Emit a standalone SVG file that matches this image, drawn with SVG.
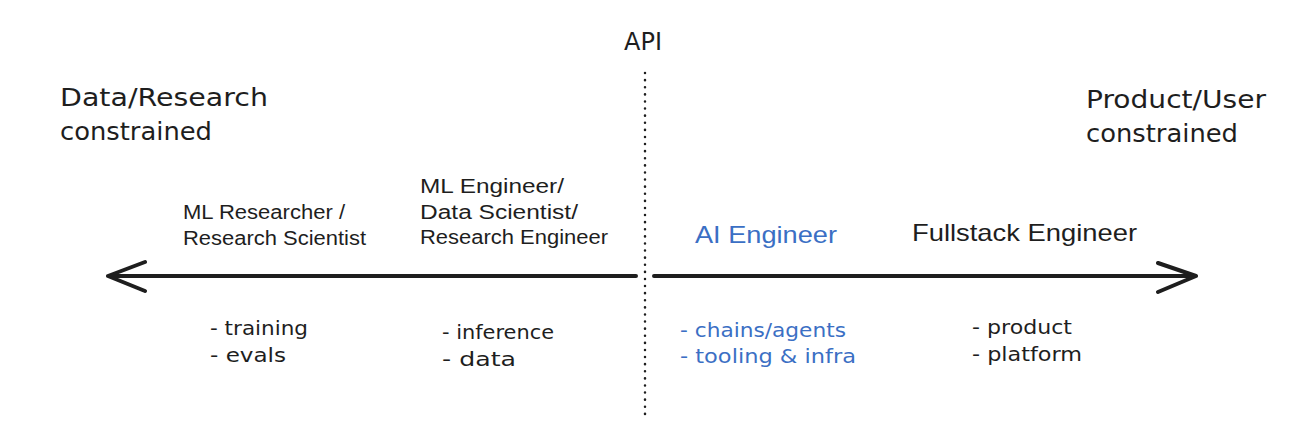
<svg xmlns="http://www.w3.org/2000/svg" width="1308" height="436" viewBox="0 0 1308 436">
<style>
.hand{font-family:"DejaVu Sans","Noto Sans",sans-serif;fill:#1e1e1e}
.big{font-size:24px}
.small{font-size:20px}
.sans{font-family:"Liberation Sans",Arial,sans-serif;fill:#1e1e1e}
.blue{fill:#3b6fc4}
.line{stroke:#1e1e1e;stroke-width:4;stroke-linecap:round;fill:none;stroke-linejoin:round}
</style>
<rect width="1308" height="436" fill="#ffffff"/>
<g id="connectors">
<line x1="645" y1="73" x2="645" y2="416" stroke="#1e1e1e" stroke-width="2.5" stroke-dasharray="0.1 7" stroke-linecap="round"/>
<path class="line" d="M636 276 L108 276 M145 262 L108 276 L145 291"/>
<path class="line" d="M654 276 L1196 276 M1158 263 L1196 276 L1158 292"/>
</g>
<g id="api"><text class="hand big" x="643" y="50" text-anchor="middle">API</text></g>
<g id="left-label">
<text class="hand big" x="60" y="106" textLength="208" lengthAdjust="spacingAndGlyphs">Data/Research</text>
<text class="hand big" x="60" y="140" textLength="152" lengthAdjust="spacingAndGlyphs">constrained</text>
</g>
<g id="right-label">
<text class="hand big" x="1086" y="108" textLength="180" lengthAdjust="spacingAndGlyphs">Product/User</text>
<text class="hand big" x="1086" y="142" textLength="152" lengthAdjust="spacingAndGlyphs">constrained</text>
</g>
<g id="ml-researcher">
<text class="sans" font-size="20" x="183" y="219" textLength="162" lengthAdjust="spacingAndGlyphs">ML Researcher /</text>
<text class="sans" font-size="20" x="183" y="245" textLength="183" lengthAdjust="spacingAndGlyphs">Research Scientist</text>
<text class="hand small" x="210" y="335" textLength="98" lengthAdjust="spacingAndGlyphs">- training</text>
<text class="hand small" x="210" y="362" textLength="76" lengthAdjust="spacingAndGlyphs">- evals</text>
</g>
<g id="ml-engineer">
<text class="sans" font-size="20" x="420" y="193" textLength="144" lengthAdjust="spacingAndGlyphs">ML Engineer/</text>
<text class="sans" font-size="20" x="420" y="219" textLength="158" lengthAdjust="spacingAndGlyphs">Data Scientist/</text>
<text class="sans" font-size="20" x="420" y="244" textLength="188" lengthAdjust="spacingAndGlyphs">Research Engineer</text>
<text class="hand small" x="442" y="339" textLength="112" lengthAdjust="spacingAndGlyphs">- inference</text>
<text class="hand small" x="442" y="366" textLength="74" lengthAdjust="spacingAndGlyphs">- data</text>
</g>
<g id="ai-engineer">
<text class="sans blue" font-size="24" x="695" y="243" textLength="142" lengthAdjust="spacingAndGlyphs">AI Engineer</text>
<text class="hand small blue" x="680" y="337" textLength="166" lengthAdjust="spacingAndGlyphs">- chains/agents</text>
<text class="hand small blue" x="680" y="363" textLength="176" lengthAdjust="spacingAndGlyphs">- tooling &amp; infra</text>
</g>
<g id="fullstack">
<text class="sans" font-size="24" x="912" y="241" textLength="225" lengthAdjust="spacingAndGlyphs">Fullstack Engineer</text>
<text class="hand small" x="972" y="334" textLength="100" lengthAdjust="spacingAndGlyphs">- product</text>
<text class="hand small" x="972" y="361" textLength="110" lengthAdjust="spacingAndGlyphs">- platform</text>
</g>
</svg>
